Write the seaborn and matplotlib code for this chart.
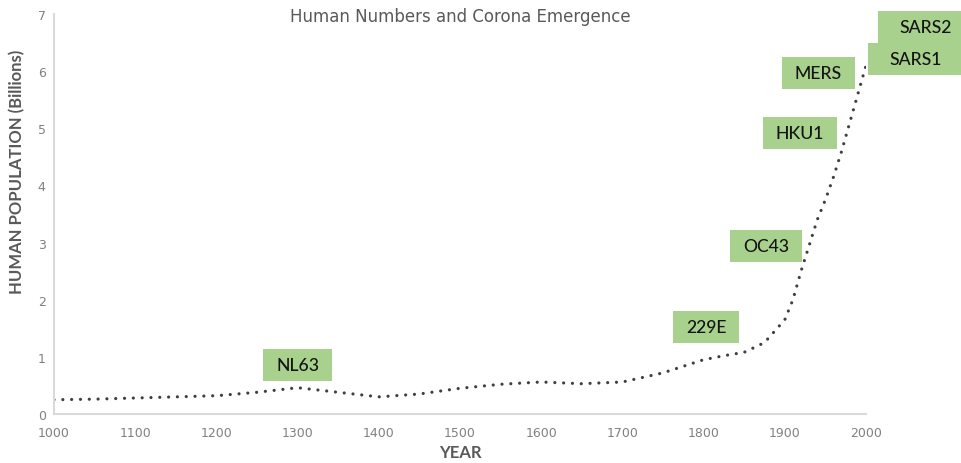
import matplotlib
matplotlib.use("Agg")
import matplotlib.pyplot as plt
from matplotlib.patches import Rectangle
import seaborn as sns
import pandas as pd

# World population estimate (billions) by year
years = [1000, 1050, 1100, 1150, 1200, 1250, 1300, 1350, 1400, 1450, 1500,
         1550, 1600, 1650, 1700, 1750, 1800, 1825, 1850, 1875, 1900, 1910,
         1920, 1930, 1940, 1950, 1960, 1970, 1980, 1990, 2000]
population = [0.25, 0.26, 0.28, 0.30, 0.32, 0.38, 0.46, 0.38, 0.30, 0.35, 0.45,
              0.52, 0.56, 0.53, 0.56, 0.72, 0.95, 1.02, 1.08, 1.25, 1.65, 2.0,
              2.5, 2.95, 3.4, 3.75, 4.15, 4.6, 5.1, 5.6, 6.1]

# Coronavirus emergence labels: name, year, height on the population axis
virus_names = ["NL63", "229E", "OC43", "HKU1", "MERS", "SARS1", "SARS2"]
virus_years = [1300, 1803, 1877, 1919, 1941, 2061, 2073]
virus_levels = [0.86, 1.52, 2.94, 4.92, 5.97, 6.21, 6.78]

x_ticks = [1000, 1100, 1200, 1300, 1400, 1500, 1600, 1700, 1800, 1900, 2000]
y_ticks = [0, 1, 2, 3, 4, 5, 6, 7]

sns.set_style("white")
plt.rcParams["font.family"] = ["DejaVu Sans"]

df = pd.DataFrame({"year": years, "population": population})

fig = plt.figure(figsize=(9.61, 4.64), dpi=100)
ax = fig.add_axes([54 / 961, 1 - 415 / 464, 812 / 961, 400 / 464])

sns.lineplot(data=df, x="year", y="population", ax=ax, color="#3f3f3f",
             linewidth=2.3, linestyle=(0, (0.01, 2.75)),
             dash_capstyle="round", solid_capstyle="round")

ax.set_xlim(1000, 2000)
ax.set_ylim(0, 7)
ax.set_xticks(x_ticks)
ax.set_yticks(y_ticks)
ax.tick_params(axis="both", length=0, labelsize=9, labelcolor="#808080")
ax.tick_params(axis="x", pad=9)
ax.tick_params(axis="y", pad=6)

for side in ("top", "right"):
    ax.spines[side].set_visible(False)
for side in ("left", "bottom"):
    ax.spines[side].set_color("#d9d9d9")
    ax.spines[side].set_linewidth(1.5)

ax.set_xlabel("YEAR", fontsize=12, fontweight="bold", color="#595959",
              family=["Lato", "DejaVu Sans"])
ax.set_ylabel("HUMAN POPULATION (Billions)", fontsize=12, fontweight="bold",
              color="#595959", family=["Lato", "DejaVu Sans"])
ax.xaxis.set_label_coords(0.5, -0.075)
ax.yaxis.set_label_coords(-0.036, 0.607)

fig.text(460 / 961, 1 - 17 / 464, "Human Numbers and Corona Emergence",
         ha="center", va="center", fontsize=12, color="#595959")

# Green label boxes sized around each name
fig.canvas.draw()
renderer = fig.canvas.get_renderer()
px_per_year = ax.transData.transform((1001, 0))[0] - ax.transData.transform((1000, 0))[0]
px_per_unit = ax.transData.transform((0, 1))[1] - ax.transData.transform((0, 0))[1]
box_h = 32 / px_per_unit
for name, yr, lvl in zip(virus_names, virus_years, virus_levels):
    txt = ax.text(yr, lvl, name, ha="center", va="center", fontsize=12.7,
                  color="#141414", family=["Lato", "DejaVu Sans"],
                  fontweight="medium", zorder=4, clip_on=False)
    w_px = txt.get_window_extent(renderer).width + 26
    if name.startswith("SARS"):
        w_px += 16
    box_w = w_px / px_per_year
    ax.add_patch(Rectangle((yr - box_w / 2, lvl - box_h / 2), box_w, box_h,
                           facecolor="#a9d18e", edgecolor="none",
                           zorder=3, clip_on=False))

fig.savefig("out.png", dpi=100)
